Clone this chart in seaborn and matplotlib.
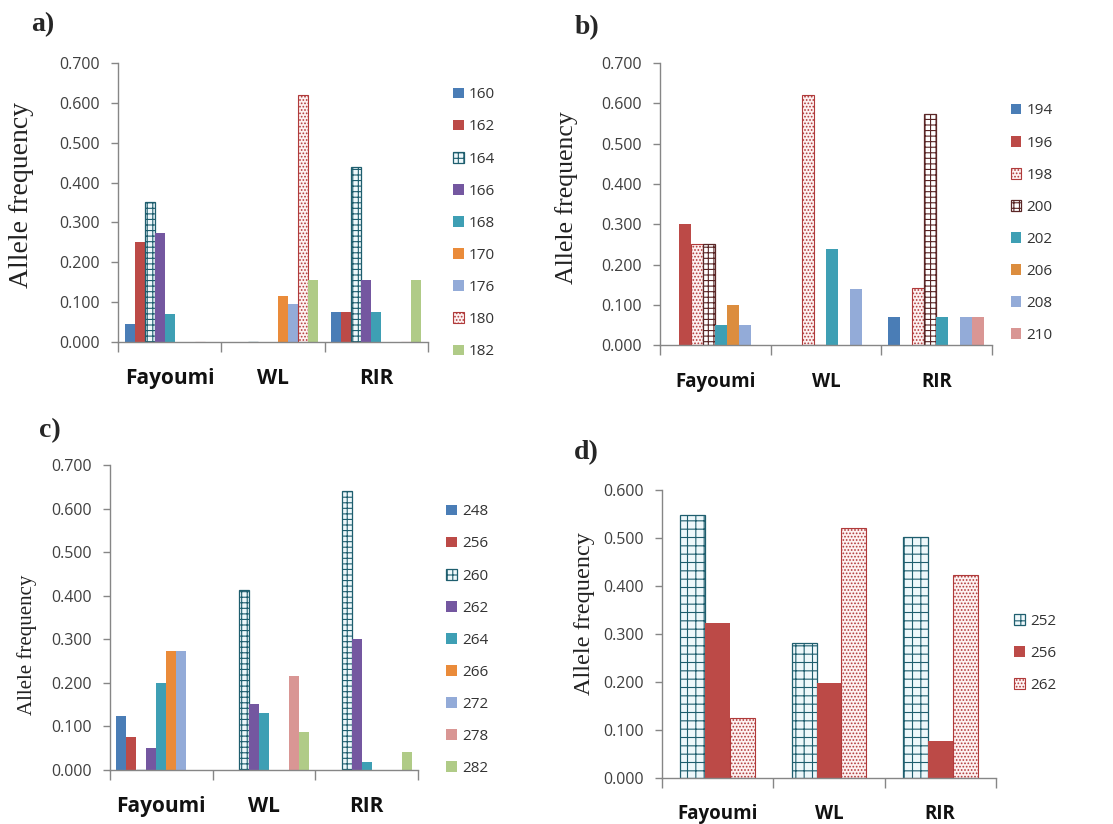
import pandas as pd
import matplotlib
matplotlib.use('Agg')
import matplotlib.pyplot as plt
from matplotlib.patches import Patch
import seaborn as sns

populations = ['Fayoumi', 'WL', 'RIR']

# panel a
a_alleles = ['160', '162', '164', '166', '168', '170', '176', '180', '182']
a_fayoumi = [0.045, 0.25, 0.35, 0.273, 0.07, 0, 0, 0, 0]
a_wl = [0, 0, 0, 0, 0, 0.115, 0.095, 0.62, 0.155]
a_rir = [0.075, 0.075, 0.44, 0.155, 0.075, 0, 0, 0, 0.155]

# panel b
b_alleles = ['194', '196', '198', '200', '202', '206', '208', '210']
b_fayoumi = [0, 0.30, 0.25, 0.25, 0.05, 0.10, 0.05, 0]
b_wl = [0, 0, 0.62, 0, 0.24, 0, 0.14, 0]
b_rir = [0.07, 0, 0.143, 0.573, 0.07, 0, 0.07, 0.07]

# panel c
c_alleles = ['248', '256', '260', '262', '264', '266', '272', '278', '282']
c_fayoumi = [0.124, 0.076, 0, 0.05, 0.20, 0.274, 0.274, 0, 0]
c_wl = [0, 0, 0.413, 0.151, 0.13, 0, 0, 0.216, 0.087]
c_rir = [0, 0, 0.641, 0.30, 0.019, 0, 0, 0, 0.042]

# panel d
d_alleles = ['252', '256', '262']
d_fayoumi = [0.549, 0.324, 0.126]
d_wl = [0.281, 0.198, 0.52]
d_rir = [0.503, 0.078, 0.422]

BLUE = '#4A7DB6'
RED = '#BC4A47'
PURPLE = '#7457A0'
TEAL = '#3E9FB4'
ORANGE = '#EA8B3A'
LBLUE = '#93ABD8'
GREEN = '#B0CB87'
PINK = '#D99694'


def solid(c):
    return dict(facecolor=c, edgecolor=c, hatch=None, lw=0)


def grid(edge, fill='#EEF8FB', hatch='+++'):
    return dict(facecolor=fill, edgecolor=edge, hatch=hatch, lw=0.9)


DOTS = dict(facecolor='#FDF1F1', edgecolor='#B03A3A', hatch='.....', lw=0.8)

a_styles = [solid(BLUE), solid(RED), grid('#1E5E6E'), solid(PURPLE),
            solid(TEAL), solid(ORANGE), solid(LBLUE), DOTS, solid(GREEN)]
b_styles = [solid(BLUE), solid(RED), DOTS, grid('#5A2626', fill='white'),
            solid(TEAL), solid('#DC8D3E'), solid(LBLUE), solid(PINK)]
c_styles = [solid(BLUE), solid(RED), grid('#1E5E6E'), solid(PURPLE),
            solid(TEAL), solid(ORANGE), solid(LBLUE), solid(PINK), solid(GREEN)]
d_styles = [grid('#1E5E6E', hatch='++'), solid(RED), DOTS]

sns.set_style('white')
plt.rcParams['font.family'] = ['Open Sans', 'DejaVu Sans']
plt.rcParams['hatch.linewidth'] = 0.8

SPINE = '#868686'


def long_frame(alleles, fayoumi, wl, rir):
    rows = []
    for pop, vals in zip(populations, [fayoumi, wl, rir]):
        for allele, v in zip(alleles, vals):
            rows.append({'population': pop, 'allele': allele, 'frequency': v})
    return pd.DataFrame(rows)


def draw_panel(ax, alleles, fay, wl, rir, styles, ymax, width,
               ylabel_size, ylabel_pos, cat_size, legend_anchor):
    df = long_frame(alleles, fay, wl, rir)
    palette = {al: st['facecolor'] for al, st in zip(alleles, styles)}
    sns.barplot(df, x='population', y='frequency', hue='allele',
                order=populations, hue_order=alleles, palette=palette,
                width=width, saturation=1, errorbar=None, legend=False,
                linewidth=0, ax=ax)
    for cont, st in zip(ax.containers, styles):
        for bar in cont:
            bar.set_facecolor(st['facecolor'])
            bar.set_edgecolor(st['edgecolor'])
            bar.set_linewidth(st['lw'])
            if st['hatch']:
                bar.set_hatch(st['hatch'])

    ax.set_xlim(-0.5, 2.5)
    ax.set_ylim(0, ymax)
    ticks = [i / 10 for i in range(int(round(ymax * 10)) + 1)]
    ax.set_yticks(ticks, [f'{t:.3f}' for t in ticks])
    ax.set_xticks([-0.5, 0.5, 1.5, 2.5], ['', '', '', ''])
    ax.set_xticks([0, 1, 2], populations, minor=True)
    ax.tick_params(axis='x', which='major', direction='out', length=7,
                   width=1, color=SPINE, bottom=True)
    ax.tick_params(axis='x', which='minor', length=0, pad=19,
                   labelsize=cat_size)
    for lab in ax.get_xticklabels(minor=True):
        lab.set_fontweight('bold')
        lab.set_color('#111111')
    ax.tick_params(axis='y', direction='out', length=5, width=1,
                   color=SPINE, left=True, pad=8, labelsize=11.5,
                   labelcolor='#404040')
    for side in ['top', 'right']:
        ax.spines[side].set_visible(False)
    for side in ['left', 'bottom']:
        ax.spines[side].set_color(SPINE)
        ax.spines[side].set_linewidth(1)
    ax.set_xlabel('')
    ax.set_ylabel('Allele frequency', family='Liberation Serif',
                  fontsize=ylabel_size, color='#222222')
    ax.yaxis.set_label_coords(*ylabel_pos)

    handles = [Patch(facecolor=st['facecolor'], edgecolor=st['edgecolor'],
                     hatch=st['hatch'], linewidth=st['lw'] if st['lw'] else 0,
                     label=al) for al, st in zip(alleles, styles)]
    ax.legend(handles=handles, loc='center left', bbox_to_anchor=legend_anchor,
              bbox_transform=ax.figure.transFigure, frameon=False,
              fontsize=11, labelspacing=1.12, handlelength=0.7,
              handleheight=0.7, handletextpad=0.35, borderpad=0,
              borderaxespad=0, labelcolor='#333333')


fig = plt.figure(figsize=(11.13, 8.24), dpi=100)
ax_a = fig.add_axes([0.106, 0.585, 0.2785, 0.3386])
ax_b = fig.add_axes([0.593, 0.581, 0.298, 0.3424])
ax_c = fig.add_axes([0.0988, 0.0655, 0.2767, 0.3702])
ax_d = fig.add_axes([0.5948, 0.0558, 0.300, 0.3495])

draw_panel(ax_a, a_alleles, a_fayoumi, a_wl, a_rir, a_styles, 0.7, 0.87,
           20, (-0.271, 0.527), 15, (0.407, 0.729))
draw_panel(ax_b, b_alleles, b_fayoumi, b_wl, b_rir, b_styles, 0.7, 0.87,
           18.5, (-0.247, 0.525), 13.5, (0.908, 0.729))
draw_panel(ax_c, c_alleles, c_fayoumi, c_wl, c_rir, c_styles, 0.7, 0.88,
           15, (-0.237, 0.41), 15, (0.401, 0.223))
draw_panel(ax_d, d_alleles, d_fayoumi, d_wl, d_rir, d_styles, 0.6, 0.67,
           17.5, (-0.2, 0.57), 13.5, (0.911, 0.207))

for letter, x, y in [('a)', 0.028, 0.970), ('b)', 0.516, 0.967),
                     ('c)', 0.035, 0.478), ('d)', 0.516, 0.451)]:
    fig.text(x, y, letter, family='Liberation Serif', fontweight='bold',
             fontsize=20, va='center', ha='left')

fig.savefig('out.png', dpi=100)
